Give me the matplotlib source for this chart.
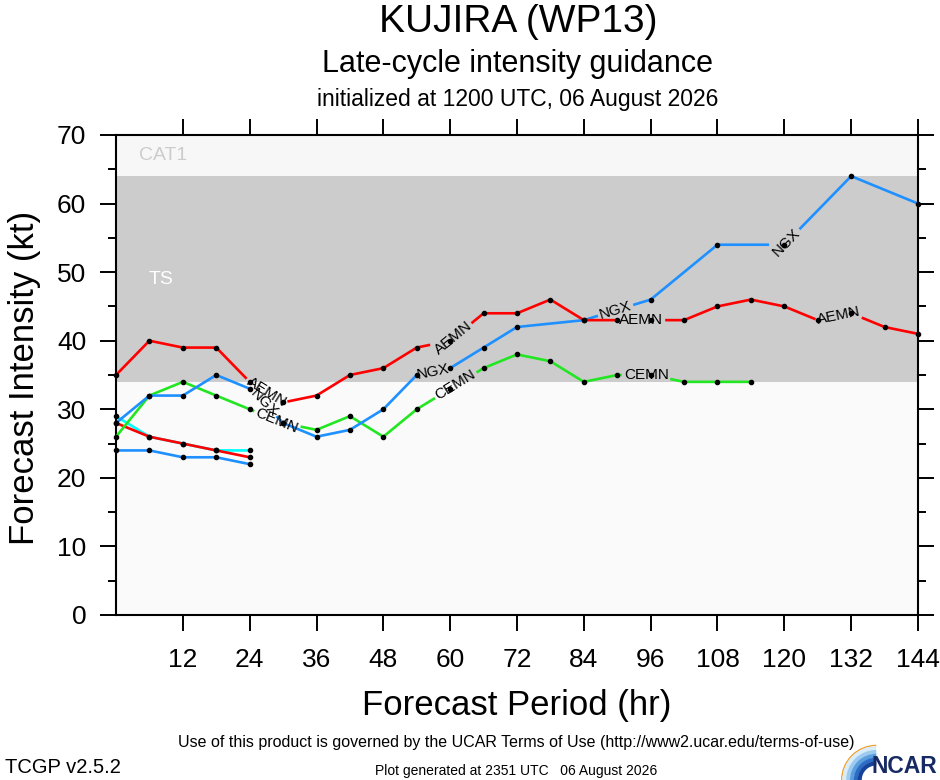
import numpy as np
import matplotlib
matplotlib.use("Agg")
import matplotlib.pyplot as plt
import matplotlib.patches as patches

# intensity guidance (kt)
aemn_hr = list(range(0, 145, 6))
aemn = [35, 40, 39, 39, 34, 31, 32, 35, 36, 39, 40, 44, 44, 46, 43, 43, 43, 43,
        45, 46, 45, 43, 44, 42, 41]
ngx_hr = [0, 6, 12, 18, 24, 30, 36, 42, 48, 54, 60, 66, 72, 84, 96, 108, 120, 132, 144]
ngx = [28, 32, 32, 35, 33, 28, 26, 27, 30, 35, 36, 39, 42, 43, 46, 54, 54, 64, 60]
cemn_hr = list(range(0, 115, 6))
cemn = [26, 32, 34, 32, 30, 28, 27, 29, 26, 30, 33, 36, 38, 37, 34, 35, 35, 34, 34, 34]

# short early-cycle tracks
early_hr = [0, 6, 12, 18, 24]
early_cyan = [29, 26, 25, 24, 24]
early_red = [28, 26, 25, 24, 23]
early_blue = [24, 24, 23, 23, 22]

# where the model names sit along the lines (hr)
aemn_lab = [27, 60.5, 94.3, 129.8]
ngx_lab = [26.5, 57, 89.7, 120.4]
cemn_lab = [28.9, 61, 95.2]

FONT = ["Liberation Sans", "DejaVu Sans"]
plt.rcParams["font.family"] = FONT

W, H = 940, 780
fig = plt.figure(figsize=(W / 100, H / 100), dpi=100)
ax = fig.add_axes([116 / W, 1 - 615 / H, (918 - 116) / W, (615 - 135) / H])
ax.set_xlim(0, 144)
ax.set_ylim(0, 70)
ax.set_facecolor("#fafafa")
ax.axhspan(34, 64, color="#cccccc", lw=0, zorder=0)
ax.axhspan(64, 70, color="#f7f7f7", lw=0, zorder=0)
ax.text(4.1, 67, "CAT1", color="#cccccc", fontsize=14, va="center", ha="left")
ax.text(5.9, 49, "TS", color="white", fontsize=14, va="center", ha="left")

renderer = fig.canvas.get_renderer()


def point_at(pts, s, sv):
    i = np.searchsorted(s, sv) - 1
    i = min(max(i, 0), len(s) - 2)
    f = (sv - s[i]) / (s[i + 1] - s[i])
    return pts[i] + f * (pts[i + 1] - pts[i])


def labeled_line(x, y, color, name, where):
    x = np.asarray(x, float)
    y = np.asarray(y, float)
    pts = ax.transData.transform(np.column_stack([x, y]))
    seg = np.hypot(np.diff(pts[:, 0]), np.diff(pts[:, 1]))
    s = np.concatenate([[0], np.cumsum(seg)])
    gaps = []
    for h in where:
        i = min(np.searchsorted(x, h) - 1, len(x) - 2)
        f = (h - x[i]) / (x[i + 1] - x[i])
        sc = s[i] + f * seg[i]
        d = pts[i + 1] - pts[i]
        ang = np.degrees(np.arctan2(d[1], d[0]))
        t = ax.text(h, y[i] + f * (y[i + 1] - y[i]), name, fontsize=11,
                    ha="center", va="center", rotation_mode="anchor", zorder=6)
        w = t.get_window_extent(renderer).width
        t.set_rotation(ang)
        gaps.append((sc - w / 2 - 2, sc + w / 2 + 2))
    # keep the parts of the line outside the label gaps
    keep = []
    start = 0.0
    for a, b in sorted(gaps):
        if a > start:
            keep.append((start, a))
        start = max(start, b)
    if start < s[-1]:
        keep.append((start, s[-1]))
    for a, b in keep:
        inner = pts[(s > a) & (s < b)]
        piece = np.vstack([point_at(pts, s, a), inner, point_at(pts, s, b)])
        dat = ax.transData.inverted().transform(piece)
        ax.plot(dat[:, 0], dat[:, 1], color=color, lw=1.9, zorder=3,
                solid_capstyle="butt")
    ax.plot(x, y, "o", color="black", ms=3, zorder=5, clip_on=False)


def plain_line(x, y, color):
    ax.plot(x, y, color=color, lw=1.9, zorder=3)
    ax.plot(x, y, "o", color="black", ms=3, zorder=5, clip_on=False)


plain_line(early_hr, early_cyan, "#00ffff")
plain_line(early_hr, early_red, "#ff0000")
plain_line(early_hr, early_blue, "#1e90ff")
labeled_line(cemn_hr, cemn, "#22e622", "CEMN", cemn_lab)
labeled_line(ngx_hr, ngx, "#1e90ff", "NGX", ngx_lab)
labeled_line(aemn_hr, aemn, "#ff0000", "AEMN", aemn_lab)

ax.set_xticks(range(12, 145, 12))
ax.set_yticks(range(0, 71, 10))
ax.set_yticks(range(0, 71, 5), minor=True)
ax.tick_params(which="major", direction="out", length=11.5, width=1.4,
               top=True, right=True, labelsize=19)
ax.tick_params(axis="x", which="major", pad=12)
ax.tick_params(axis="y", which="major", pad=10)
ax.tick_params(axis="y", which="minor", direction="out", length=6, width=1.4,
               left=True, right=True)
for sp in ax.spines.values():
    sp.set_linewidth(1.5)

fig.text(517 / W, 1 - 705 / H, "Forecast Period (hr)", fontsize=25,
         ha="center", va="center")
fig.text(25 / W, 1 - 378 / H, "Forecast Intensity (kt)", fontsize=25,
         ha="center", va="center", rotation=90)

fig.text(518 / W, 1 - 32 / H, "KUJIRA (WP13)", fontsize=28, ha="center", va="baseline")
fig.text(518 / W, 1 - 72 / H, "Late-cycle intensity guidance", fontsize=22,
         ha="center", va="baseline")
fig.text(518 / W, 1 - 106 / H, "initialized at 1200 UTC, 06 August 2026", fontsize=16.5,
         ha="center", va="baseline")

fig.text(516 / W, 1 - 747 / H,
         "Use of this product is governed by the UCAR Terms of Use (http://www2.ucar.edu/terms-of-use)",
         fontsize=11.5, ha="center", va="baseline")
fig.text(5 / W, 1 - 773 / H, "TCGP v2.5.2", fontsize=14.5, ha="left", va="baseline")
fig.text(516 / W, 1 - 775 / H, "Plot generated at 2351 UTC   06 August 2026",
         fontsize=10, ha="center", va="baseline")

# NCAR logo
lax = fig.add_axes([840 / W, 0, 38 / W, 38 / H])
lax.set_xlim(0, 1.1)
lax.set_ylim(0, 1.1)
lax.axis("off")
lax.add_patch(patches.Wedge((1.05, 0), 1.02, 90, 180, width=0.04, color="#f0a030", lw=0))
blues = ["#d8ecfa", "#9ccbef", "#5a9ee0", "#2b6cc4", "#16439a"]
for k, c in enumerate(blues):
    r = 0.98 - k * 0.11
    lax.add_patch(patches.Wedge((1.05, 0), r, 90, 180, width=0.12, color=c, lw=0))
fig.text(937 / W, 2 / H, "NCAR", fontsize=16.5, color="#172a63",
         ha="right", va="bottom", weight="bold")

fig.savefig("out.png", dpi=100)
